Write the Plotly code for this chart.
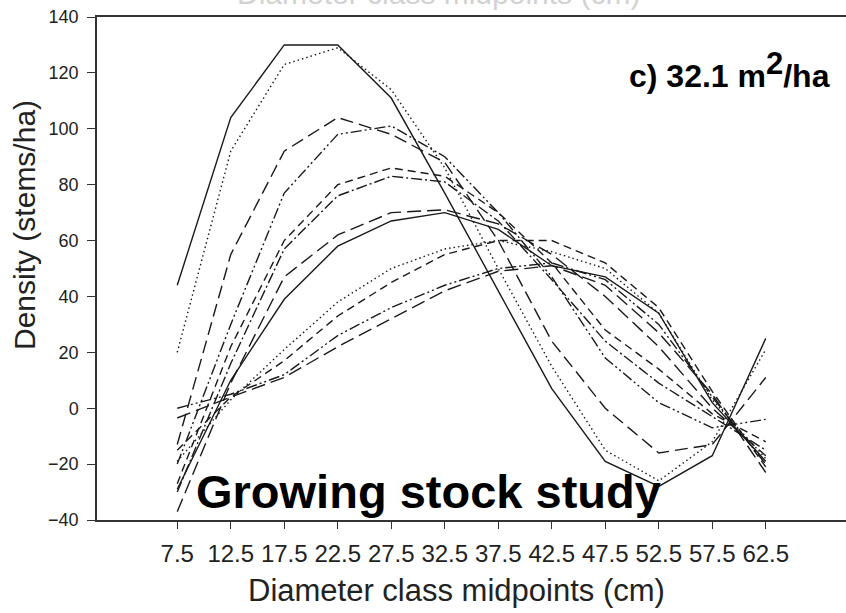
import plotly.graph_objects as go

# Diameter class midpoints (cm)
diam = [7.5, 12.5, 17.5, 22.5, 27.5, 32.5, 37.5, 42.5, 47.5, 52.5, 57.5, 62.5]
tick_text = ["7.5", "12.5", "17.5", "22.5", "27.5", "32.5", "37.5", "42.5", "47.5", "52.5", "57.5", "62.5"]

# Density (stems/ha) for each fitted distribution
s01 = [44, 104, 130, 130, 111, 77, 42, 7, -19, -28, -17, 25]
s02 = [20, 92, 123, 129, 114, 86, 50, 15, -15, -26, -12, 21]
s03 = [-13, 55, 92, 104, 98, 88, 60, 24, 0, -16, -13, 11]
s04 = [-20, 30, 77, 98, 101, 90, 70, 47, 18, 2, -7, -4]
s05 = [-27, 22, 60, 80, 86, 83, 70, 52, 28, 14, -2, -12]
s06 = [-30, 16, 57, 76, 83, 81, 67, 46, 24, 9, -3, -15]
s07 = [-37, 9, 47, 62, 70, 71, 66, 55, 40, 22, 0, -17]
s08 = [-29, 10, 39, 58, 67, 70, 64, 51, 47, 34, 2, -19]
s09 = [-19, 3, 21, 38, 50, 57, 60, 56, 50, 34, 3, -18]
s10 = [-15, 4, 17, 33, 45, 55, 60, 60, 52, 36, 6, -21]
s11 = [0, 5, 12, 26, 36, 44, 50, 52, 46, 30, 4, -20]
s12 = [-3.5, 4, 11, 22, 32, 42, 49, 51, 44, 27, 5, -23]

y_ticks = [-40, -20, 0, 20, 40, 60, 80, 100, 120, 140]

series = [s01, s02, s03, s04, s05, s06, s07, s08, s09, s10, s11, s12]
dashes = [
    "solid",
    "1.5px,3px",
    "13px,6px",
    "11px,3px,2px,3px,2px,3px",
    "8px,5px",
    "11px,3px,2px,3px",
    "14px,6px",
    "solid",
    "1.5px,3px",
    "8px,5px",
    "11px,3px,2px,3px,2px,3px",
    "14px,6px",
]

FONT = "Liberation Sans, Arial, sans-serif"
INK = "#1a1a1a"

fig = go.Figure()
for vals, dash in zip(series, dashes):
    fig.add_trace(go.Scatter(
        x=diam, y=vals, mode="lines",
        line=dict(color=INK, width=1.4, dash=dash),
        showlegend=False, hoverinfo="skip",
    ))

fig.update_layout(
    width=846, height=613,
    margin=dict(l=97, r=0, t=17, b=93),
    paper_bgcolor="white", plot_bgcolor="white",
    font=dict(family=FONT, color="#222"),
    showlegend=False,
)

fig.update_xaxes(
    range=[0, 70], tickmode="array", tickvals=diam, ticktext=tick_text,
    ticks="outside", ticklen=7, tickwidth=1.3, tickcolor="#333",
    showline=True, linecolor="#333", linewidth=1.5, mirror=True,
    showgrid=False, zeroline=False, ticklabelstandoff=4,
    tickfont=dict(size=24, family=FONT, color="#222"),
)
fig.update_yaxes(
    range=[-40, 140], tickmode="array", tickvals=y_ticks,
    ticks="outside", ticklen=8, tickwidth=1.3, tickcolor="#333",
    showline=True, linecolor="#333", linewidth=1.5,
    showgrid=False, zeroline=False, ticklabelstandoff=5,
    tickfont=dict(size=18, family=FONT, color="#222"),
)

annotations = [
    # axis titles
    dict(text="Diameter class midpoints (cm)", x=(456 - 97) / 749, y=(520 - 590) / 503,
         xref="paper", yref="paper", xanchor="center", yanchor="middle",
         showarrow=False, font=dict(size=31, family=FONT, color="#222")),
    dict(text="Density (stems/ha)", x=(25 - 97) / 749, y=(520 - 225) / 503,
         xref="paper", yref="paper", xanchor="center", yanchor="middle", textangle=-90,
         showarrow=False, font=dict(size=30, family=FONT, color="#222")),
    # faded heading at the top edge
    dict(text="Diameter class midpoints (cm)", x=(438 - 97) / 749, y=(520 - 12) / 503,
         xref="paper", yref="paper", xanchor="center", yanchor="bottom",
         showarrow=False, font=dict(size=30, family=FONT, color="#d2d2d2")),
    # panel label
    dict(text="c) 32.1 m<sup><span style='font-size:31px'>2</span></sup>/ha",
         x=(832 - 97) / 749, y=(520 - 70) / 503,
         xref="paper", yref="paper", xanchor="right", yanchor="middle",
         showarrow=False, font=dict(size=32, family=FONT, color="#000", weight="bold")),
    # study label
    dict(text="Growing stock study", x=(194 - 97) / 749, y=(520 - 491) / 503,
         xref="paper", yref="paper", xanchor="left", yanchor="middle",
         showarrow=False, font=dict(size=47, family=FONT, color="#000", weight="bold")),
]
fig.update_layout(annotations=annotations)

fig.write_html("out.html")
